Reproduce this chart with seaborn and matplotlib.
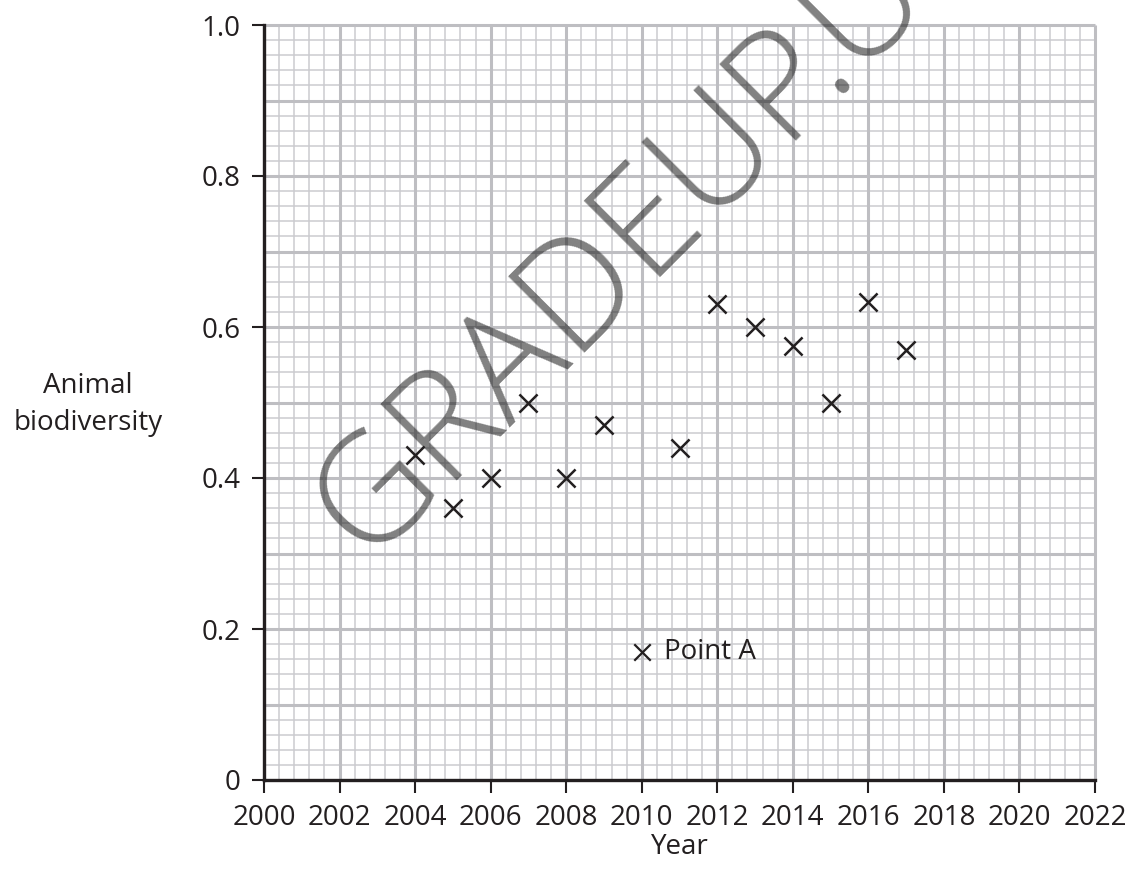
import numpy as np
import pandas as pd
import seaborn as sns
import matplotlib as mpl
from matplotlib import pyplot as plt

# data
years = [2004, 2005, 2006, 2007, 2008, 2009, 2011, 2012, 2013, 2014, 2015, 2016, 2017]
biodiversity = [0.43, 0.36, 0.40, 0.50, 0.40, 0.47, 0.44, 0.63, 0.60, 0.575, 0.50, 0.633, 0.57]
point_a_year = [2010]
point_a_value = [0.17]
x_ticks = list(range(2000, 2023, 2))
y_ticks = [0, 0.2, 0.4, 0.6, 0.8, 1.0]
y_tick_labels = ['0', '0.2', '0.4', '0.6', '0.8', '1.0']

sns.set_style('white')
plt.rcParams['font.family'] = ['Open Sans', 'DejaVu Sans']

ink = '#231f20'
minor_col = '#cbcbcf'
major_col = '#bebec2'
fs = 20

df = pd.DataFrame({'Year': years, 'Biodiversity': biodiversity})
df_a = pd.DataFrame({'Year': point_a_year, 'Biodiversity': point_a_value})

fig = plt.figure(figsize=(11.25, 8.81), dpi=100)
ax = fig.add_axes([264 / 1125, 101 / 881, 831 / 1125, 755 / 881])
ax.set_xlim(2000, 2022)
ax.set_ylim(0, 1.0)

# graph paper grid
ax.vlines(np.arange(2000, 2022.01, 0.4), 0, 1, color=minor_col, lw=1.1, zorder=0)
ax.hlines(np.arange(0, 1.001, 0.02), 2000, 2022, color=minor_col, lw=1.1, zorder=0)
ax.vlines(np.arange(2000, 2022.01, 2), 0, 1, color=major_col, lw=2.2, zorder=0.5, clip_on=False)
ax.hlines(np.arange(0, 1.001, 0.1), 2000, 2022, color=major_col, lw=2.2, zorder=0.5, clip_on=False)

sns.scatterplot(data=df, x='Year', y='Biodiversity', marker='x', s=170,
                color=ink, linewidth=1.8, ax=ax, zorder=5, clip_on=False)
sns.scatterplot(data=df_a, x='Year', y='Biodiversity', marker='x', s=140,
                color=ink, linewidth=1.6, ax=ax, zorder=5)
ax.text(point_a_year[0] + 0.6, point_a_value[0], 'Point A', fontsize=fs,
        color=ink, va='center', ha='left', zorder=6)

ax.set_xticks(x_ticks)
ax.set_yticks(y_ticks)
ax.set_yticklabels(y_tick_labels)
ax.tick_params(axis='both', which='major', direction='out', length=9, width=1.5,
               color=ink, labelsize=fs, labelcolor=ink, pad=8)
ax.tick_params(left=True, bottom=True)

for s in ['top', 'right']:
    ax.spines[s].set_visible(False)
for s in ['left', 'bottom']:
    ax.spines[s].set_color(ink)
    ax.spines[s].set_linewidth(2.4)
    ax.spines[s].set_zorder(7)

ax.set_xlabel('Year', fontsize=fs, color=ink, va='center')
ax.xaxis.set_label_coords(0.5, -0.089)
ax.set_ylabel('Animal\nbiodiversity', fontsize=fs, color=ink, rotation=0,
              ha='center', va='center', linespacing=1.45)
ax.yaxis.set_label_coords(-0.212, 0.497)

# watermark
fig.text(622 / 1125, 1 - 250 / 881, 'GRADEUP.U', fontsize=109, fontweight='light',
         color='#202020', alpha=0.57, rotation=45, rotation_mode='anchor',
         ha='center', va='center', zorder=4)

fig.savefig('out.png', dpi=100)
